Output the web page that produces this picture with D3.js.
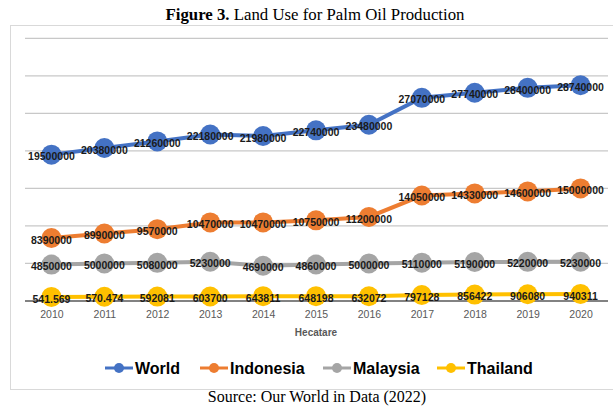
<!DOCTYPE html>
<html>
<head>
<meta charset="utf-8">
<script src="https://cdn.jsdelivr.net/npm/d3@7"></script>
<style>
  body { margin: 0; background: #fff; }
  svg { display: block; }
</style>
</head>
<body>
<svg id="chart" width="613" height="407"></svg>
<script>
// data
var years = ["2010", "2011", "2012", "2013", "2014", "2015", "2016", "2017", "2018", "2019", "2020"];
var world = [19500000, 20380000, 21260000, 22180000, 21980000, 22740000, 23480000, 27070000, 27740000, 28400000, 28740000];
var indonesia = [8390000, 8990000, 9570000, 10470000, 10470000, 10750000, 11200000, 14050000, 14330000, 14600000, 15000000];
var malaysia = [4850000, 5000000, 5080000, 5230000, 4690000, 4860000, 5000000, 5110000, 5190000, 5220000, 5230000];
var thailand = [541569, 570474, 592081, 603700, 643811, 648198, 632072, 797128, 856422, 906080, 940311];
// the first two Thailand labels are printed this way in the source figure
var thailandLabels = ["541.569", "570.474", "592081", "603700", "643811", "648198", "632072", "797128", "856422", "906080", "940311"];
var yTicks = [0, 5000000, 10000000, 15000000, 20000000, 25000000, 30000000, 35000000];

var series = [
  { name: "World", values: world, color: "#4472C4" },
  { name: "Indonesia", values: indonesia, color: "#ED7D31" },
  { name: "Malaysia", values: malaysia, color: "#A5A5A5" },
  { name: "Thailand", values: thailand, color: "#FFC000", labels: thailandLabels }
];

var svg = d3.select("#chart");

// title
var title = svg.append("text")
  .attr("x", 315).attr("y", 20)
  .attr("text-anchor", "middle")
  .style("font-family", "'Liberation Serif', serif")
  .style("font-size", "16.8px")
  .style("fill", "#000");
title.append("tspan").style("font-weight", "bold").text("Figure 3.");
title.append("tspan").text(" Land Use for Palm Oil Production");

// chart frame
svg.append("rect")
  .attr("x", 10.5).attr("y", 25.5)
  .attr("width", 610).attr("height", 364)
  .attr("fill", "none")
  .attr("stroke", "#d9d9d9");

var x = d3.scalePoint()
  .domain(years)
  .range([25, 607])
  .padding(0.5);

var y = d3.scaleLinear()
  .domain([0, 35000000])
  .range([301, 38.3]);

// gridlines
svg.append("g")
  .selectAll("line")
  .data(yTicks)
  .enter().append("line")
  .attr("x1", 25).attr("x2", 608)
  .attr("y1", function(d) { return y(d); })
  .attr("y2", function(d) { return y(d); })
  .attr("stroke", function(d) { return d === 0 ? "#595959" : "#c8c8c8"; })
  .attr("stroke-width", function(d) { return d === 0 ? 1.5 : 1.2; });

// x axis labels
var xAxis = svg.append("g")
  .attr("transform", "translate(0,301)")
  .call(d3.axisBottom(x).tickSize(0).tickPadding(10));
xAxis.select(".domain").remove();
xAxis.selectAll("text")
  .style("font-family", "'Liberation Sans', Arial, sans-serif")
  .style("font-size", "10.5px")
  .style("fill", "#595959");

svg.append("text")
  .attr("x", 316).attr("y", 336)
  .attr("text-anchor", "middle")
  .style("font-family", "'Liberation Sans', Arial, sans-serif")
  .style("font-size", "10px")
  .style("font-weight", "bold")
  .style("fill", "#595959")
  .text("Hecatare");

var line = d3.line()
  .x(function(d, i) { return x(years[i]); })
  .y(function(d) { return y(d); });

// lines first, then markers, then labels
var groups = svg.selectAll(".series")
  .data(series)
  .enter().append("g")
  .attr("class", "series");

groups.append("path")
  .attr("d", function(s) { return line(s.values); })
  .attr("fill", "none")
  .attr("stroke", function(s) { return s.color; })
  .attr("stroke-width", 4);

groups.selectAll("circle")
  .data(function(s) { return s.values.map(function(v, i) { return { v: v, i: i, s: s }; }); })
  .enter().append("circle")
  .attr("cx", function(d) { return x(years[d.i]); })
  .attr("cy", function(d) { return y(d.v); })
  .attr("r", 10)
  .attr("fill", function(d) { return d.s.color; });

groups.selectAll(".lbl")
  .data(function(s) { return s.values.map(function(v, i) { return { v: v, i: i, s: s }; }); })
  .enter().append("text")
  .attr("class", "lbl")
  .attr("x", function(d) { return x(years[d.i]); })
  .attr("y", function(d) { return y(d.v) + 2; })
  .attr("dy", "0.35em")
  .attr("text-anchor", "middle")
  .style("font-family", "'Liberation Sans', Arial, sans-serif")
  .style("font-size", "10.5px")
  .style("font-weight", "bold")
  .style("fill", "#1a1a1a")
  .text(function(d) { return d.s.labels ? d.s.labels[d.i] : String(d.v); });

// legend
var legendX = [105, 200, 323, 437];
var legend = svg.selectAll(".legend")
  .data(series)
  .enter().append("g")
  .attr("class", "legend")
  .attr("transform", function(s, i) { return "translate(" + legendX[i] + ",368)"; });

legend.append("line")
  .attr("x1", 0).attr("x2", 28)
  .attr("stroke", function(s) { return s.color; })
  .attr("stroke-width", 3);
legend.append("circle")
  .attr("cx", 14).attr("r", 5)
  .attr("fill", function(s) { return s.color; });
legend.append("text")
  .attr("x", 30).attr("dy", "0.35em")
  .style("font-family", "'Liberation Sans', Arial, sans-serif")
  .style("font-size", "16px")
  .style("font-weight", "bold")
  .style("fill", "#000")
  .text(function(s) { return s.name; });

// source
svg.append("text")
  .attr("x", 317).attr("y", 402)
  .attr("text-anchor", "middle")
  .style("font-family", "'Liberation Serif', serif")
  .style("font-size", "16px")
  .style("fill", "#000")
  .text("Source: Our World in Data (2022)");
</script>
</body>
</html>
